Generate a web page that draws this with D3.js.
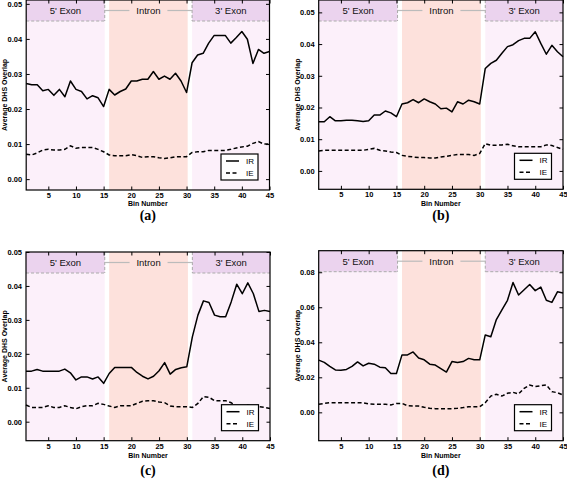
<!DOCTYPE html>
<html><head><meta charset="utf-8">
<script src="https://cdn.jsdelivr.net/npm/d3@7"></script>
<style>body{margin:0;background:#fff}svg{display:block}</style></head>
<body>
<script>
const bins=[1,2,3,4,5,6,7,8,9,10,11,12,13,14,15,16,17,18,19,20,21,22,23,24,25,26,27,28,29,30,31,32,33,34,35,36,37,38,39,40,41,42,43,44,45];
const irA=[0.0273,0.0269,0.0269,0.0252,0.0256,0.0239,0.0256,0.0235,0.0280,0.0256,0.0250,0.0229,0.0238,0.0232,0.0207,0.0256,0.0240,0.0250,0.0257,0.0280,0.0280,0.0285,0.0285,0.0307,0.0285,0.0294,0.0285,0.0302,0.0280,0.0247,0.0332,0.0354,0.0359,0.0388,0.0410,0.0410,0.0410,0.0388,0.0404,0.0421,0.0399,0.0330,0.0370,0.0359,0.0364];
const ieA=[0.0071,0.0069,0.0075,0.0083,0.0085,0.0083,0.0083,0.0085,0.0095,0.0088,0.0090,0.0090,0.0090,0.0085,0.0078,0.0069,0.0067,0.0067,0.0067,0.0070,0.0067,0.0062,0.0064,0.0064,0.0061,0.0059,0.0061,0.0064,0.0064,0.0064,0.0076,0.0078,0.0078,0.0082,0.0082,0.0082,0.0082,0.0085,0.0089,0.0092,0.0094,0.0102,0.0107,0.0100,0.0100];
const irB=[0.0155,0.0155,0.0171,0.0158,0.0158,0.0160,0.0160,0.0158,0.0156,0.0158,0.0176,0.0176,0.0189,0.0183,0.0171,0.0211,0.0215,0.0225,0.0215,0.0227,0.0218,0.0211,0.0196,0.0198,0.0186,0.0218,0.0211,0.0223,0.0218,0.0211,0.0323,0.0339,0.0349,0.0371,0.0392,0.0398,0.0411,0.0418,0.0418,0.0439,0.0402,0.0368,0.0396,0.0376,0.0360];
const ieB=[0.0063,0.0065,0.0065,0.0065,0.0065,0.0065,0.0065,0.0065,0.0065,0.0068,0.0071,0.0065,0.0063,0.0060,0.0058,0.0049,0.0046,0.0044,0.0042,0.0042,0.0041,0.0041,0.0044,0.0046,0.0049,0.0052,0.0052,0.0052,0.0049,0.0055,0.0086,0.0081,0.0081,0.0082,0.0084,0.0079,0.0076,0.0076,0.0076,0.0076,0.0076,0.0082,0.0080,0.0074,0.0068];
const irC=[0.0149,0.0149,0.0154,0.0149,0.0149,0.0149,0.0149,0.0155,0.0144,0.0123,0.0132,0.0132,0.0126,0.0132,0.0113,0.0142,0.0160,0.0160,0.0160,0.0160,0.0145,0.0134,0.0126,0.0134,0.0150,0.0174,0.0140,0.0154,0.0159,0.0162,0.0250,0.0314,0.0356,0.0351,0.0314,0.0309,0.0309,0.0353,0.0405,0.0377,0.0409,0.0377,0.0325,0.0328,0.0325];
const ieC=[0.0049,0.0042,0.0042,0.0042,0.0047,0.0042,0.0042,0.0047,0.0042,0.0038,0.0044,0.0047,0.0047,0.0054,0.0051,0.0046,0.0042,0.0047,0.0047,0.0047,0.0054,0.0060,0.0062,0.0062,0.0058,0.0056,0.0046,0.0044,0.0044,0.0044,0.0042,0.0054,0.0074,0.0072,0.0062,0.0062,0.0062,0.0056,0.0044,0.0044,0.0049,0.0044,0.0044,0.0042,0.0039];
const irD=[0.0298,0.0285,0.0262,0.0242,0.0240,0.0245,0.0262,0.0288,0.0265,0.0280,0.0275,0.0258,0.0255,0.0222,0.0222,0.0328,0.0328,0.0345,0.0310,0.0300,0.0275,0.0270,0.0250,0.0230,0.0290,0.0285,0.0290,0.0308,0.0300,0.0300,0.0442,0.0432,0.0530,0.0585,0.0640,0.0741,0.0670,0.0700,0.0730,0.0695,0.0715,0.0640,0.0628,0.0688,0.0682];
const ieD=[0.0046,0.0051,0.0055,0.0055,0.0055,0.0055,0.0055,0.0055,0.0055,0.0048,0.0046,0.0046,0.0046,0.0042,0.0051,0.0051,0.0038,0.0036,0.0036,0.0029,0.0023,0.0021,0.0021,0.0021,0.0021,0.0023,0.0027,0.0032,0.0032,0.0032,0.0055,0.0093,0.0103,0.0093,0.0109,0.0114,0.0105,0.0137,0.0156,0.0147,0.0152,0.0156,0.0118,0.0112,0.0099];
const xTicks=[5,10,15,20,25,30,35,40,45];
const yTicksABC=[0,0.01,0.02,0.03,0.04,0.05];
const yTicksD=[0,0.02,0.04,0.06,0.08];
const regionNames=["5' Exon","Intron","3' Exon"];
const regionStart=[1,16,31];
const regionEnd=[15.2,30.2,45];
const seriesNames=["IR","IE"];
const panelLabels=["(a)","(b)","(c)","(d)"];

const panels=[
 {ir:irA,ie:ieA,yt:yTicksABC,dom:[-0.0031,0.0511],L:26.2,R:269.5,T:0,B:190,lab:panelLabels[0],bn:205.5,tl:220},
 {ir:irB,ie:ieB,yt:yTicksABC,dom:[-0.0058,0.0539],L:318.7,R:563,T:0,B:189.3,lab:panelLabels[1],bn:205.5,tl:220},
 {ir:irC,ie:ieC,yt:yTicksABC,dom:[-0.0056,0.0500],L:26,R:270,T:252,B:440.7,lab:panelLabels[2],bn:457.5,tl:474.5},
 {ir:irD,ie:ieD,yt:yTicksD,dom:[-0.0162,0.0923],L:318.7,R:563,T:250.7,B:440.7,lab:panelLabels[3],bn:457.5,tl:474.5}
];

const svg=d3.select("body").append("svg").attr("width",567).attr("height",481);
const font="'Liberation Sans', Arial, sans-serif";

panels.forEach(p=>{
  const g=svg.append("g");
  const x=d3.scaleLinear().domain([1,45]).range([p.L,p.R]);
  const y=d3.scaleLinear().domain(p.dom).range([p.B,p.T]);
  const hb=p.T+21;
  regionNames.forEach((nm,i)=>{
    const x0=x(regionStart[i]), x1=x(regionEnd[i]);
    if(nm==="Intron"){
      g.append("rect").attr("x",x0).attr("y",p.T).attr("width",x1-x0).attr("height",p.B-p.T).attr("fill","#fde1dc");
    } else {
      g.append("rect").attr("x",x0).attr("y",hb).attr("width",x1-x0).attr("height",p.B-hb).attr("fill","#fcf0fa");
      g.append("rect").attr("x",x0).attr("y",p.T).attr("width",x1-x0).attr("height",hb-p.T).attr("fill","#ebd3ee");
      g.append("line").attr("x1",x0).attr("x2",x1).attr("y1",hb).attr("y2",hb).attr("stroke","#aaa").attr("stroke-dasharray","3,2").attr("stroke-width",1);
      const xe = i===0? x1 : x0;
      g.append("line").attr("x1",xe).attr("x2",xe).attr("y1",p.T).attr("y2",hb).attr("stroke","#aaa").attr("stroke-dasharray","3,2").attr("stroke-width",1);
    }
  });
  const hm=(p.T+hb)/2;
  const ic=x((regionStart[1]+regionEnd[1])/2);
  g.append("line").attr("x1",x(regionEnd[0])).attr("x2",ic-19).attr("y1",hm).attr("y2",hm).attr("stroke","#bbb").attr("stroke-width",1.2);
  g.append("line").attr("x1",ic+19).attr("x2",x(regionStart[2])).attr("y1",hm).attr("y2",hm).attr("stroke","#bbb").attr("stroke-width",1.2);
  regionNames.forEach((nm,i)=>{
    g.append("text").attr("x",x((regionStart[i]+regionEnd[i])/2)).attr("y",hm).attr("dy","0.35em")
      .attr("text-anchor","middle").attr("font-family",font).attr("font-size",9.5).attr("fill","#111").text(nm);
  });
  const line=d3.line().x((d,i)=>x(bins[i])).y(d=>y(d));
  g.append("path").datum(p.ir).attr("d",line).attr("fill","none").attr("stroke","#000").attr("stroke-width",1.5).attr("stroke-linejoin","round");
  g.append("path").datum(p.ie).attr("d",line).attr("fill","none").attr("stroke","#000").attr("stroke-width",1.5).attr("stroke-dasharray","4,2.5");
  const styleAx=sel=>{sel.select(".domain").remove();sel.selectAll(".tick line").attr("stroke","#000").attr("stroke-width",1);
    sel.selectAll("text").attr("font-family",font).attr("font-weight","bold").attr("font-size",7.5).attr("fill","#000");};
  g.append("g").attr("transform",`translate(0,${p.B})`).call(d3.axisBottom(x).tickValues(xTicks).tickSizeInner(-3.5).tickSizeOuter(0).tickPadding(2.5)).call(styleAx);
  g.append("g").attr("transform",`translate(0,${p.T})`).call(d3.axisTop(x).tickValues(xTicks).tickSizeInner(-3.5).tickSizeOuter(0).tickFormat("")).call(styleAx);
  g.append("g").attr("transform",`translate(${p.L},0)`).call(d3.axisLeft(y).tickValues(p.yt).tickFormat(d3.format(".2f")).tickSizeInner(-3.5).tickSizeOuter(0).tickPadding(4)).call(styleAx);
  g.append("g").attr("transform",`translate(${p.R},0)`).call(d3.axisRight(y).tickValues(p.yt).tickSizeInner(-3.5).tickSizeOuter(0).tickFormat("")).call(styleAx);
  g.append("rect").attr("x",p.L).attr("y",p.T).attr("width",p.R-p.L).attr("height",p.B-p.T).attr("fill","none").attr("stroke","#000").attr("stroke-width",1.2);
  const lx=p.R-48.5, ly=p.B-36;
  g.append("rect").attr("x",lx).attr("y",ly).attr("width",37).attr("height",26).attr("fill","#fff").attr("stroke","#000").attr("stroke-width",1.2);
  seriesNames.forEach((s,i)=>{
    const yy=ly+7+i*12;
    g.append("line").attr("x1",lx+5).attr("x2",lx+18).attr("y1",yy).attr("y2",yy).attr("stroke","#000").attr("stroke-width",1.5).attr("stroke-dasharray",i===1?"4,2.5":null);
    g.append("text").attr("x",lx+25).attr("y",yy).attr("dy","0.35em").attr("font-family",font).attr("font-size",8).attr("fill","#000").text(s);
  });
  const cx=(p.L+p.R)/2;
  g.append("text").attr("x",cx).attr("y",p.bn).attr("text-anchor","middle").attr("font-family",font).attr("font-weight","bold").attr("font-size",7).text("Bin Number");
  g.append("text").attr("transform",`translate(${p.L-19},${(p.T+p.B)/2}) rotate(-90)`).attr("text-anchor","middle").attr("font-family",font).attr("font-weight","bold").attr("font-size",7).text("Average DHS Overlap");
  g.append("text").attr("x",cx).attr("y",p.tl).attr("text-anchor","middle").attr("font-family","'Liberation Serif','Times New Roman',serif").attr("font-weight","bold").attr("font-size",14).text(p.lab);
});
</script>
</body></html>
